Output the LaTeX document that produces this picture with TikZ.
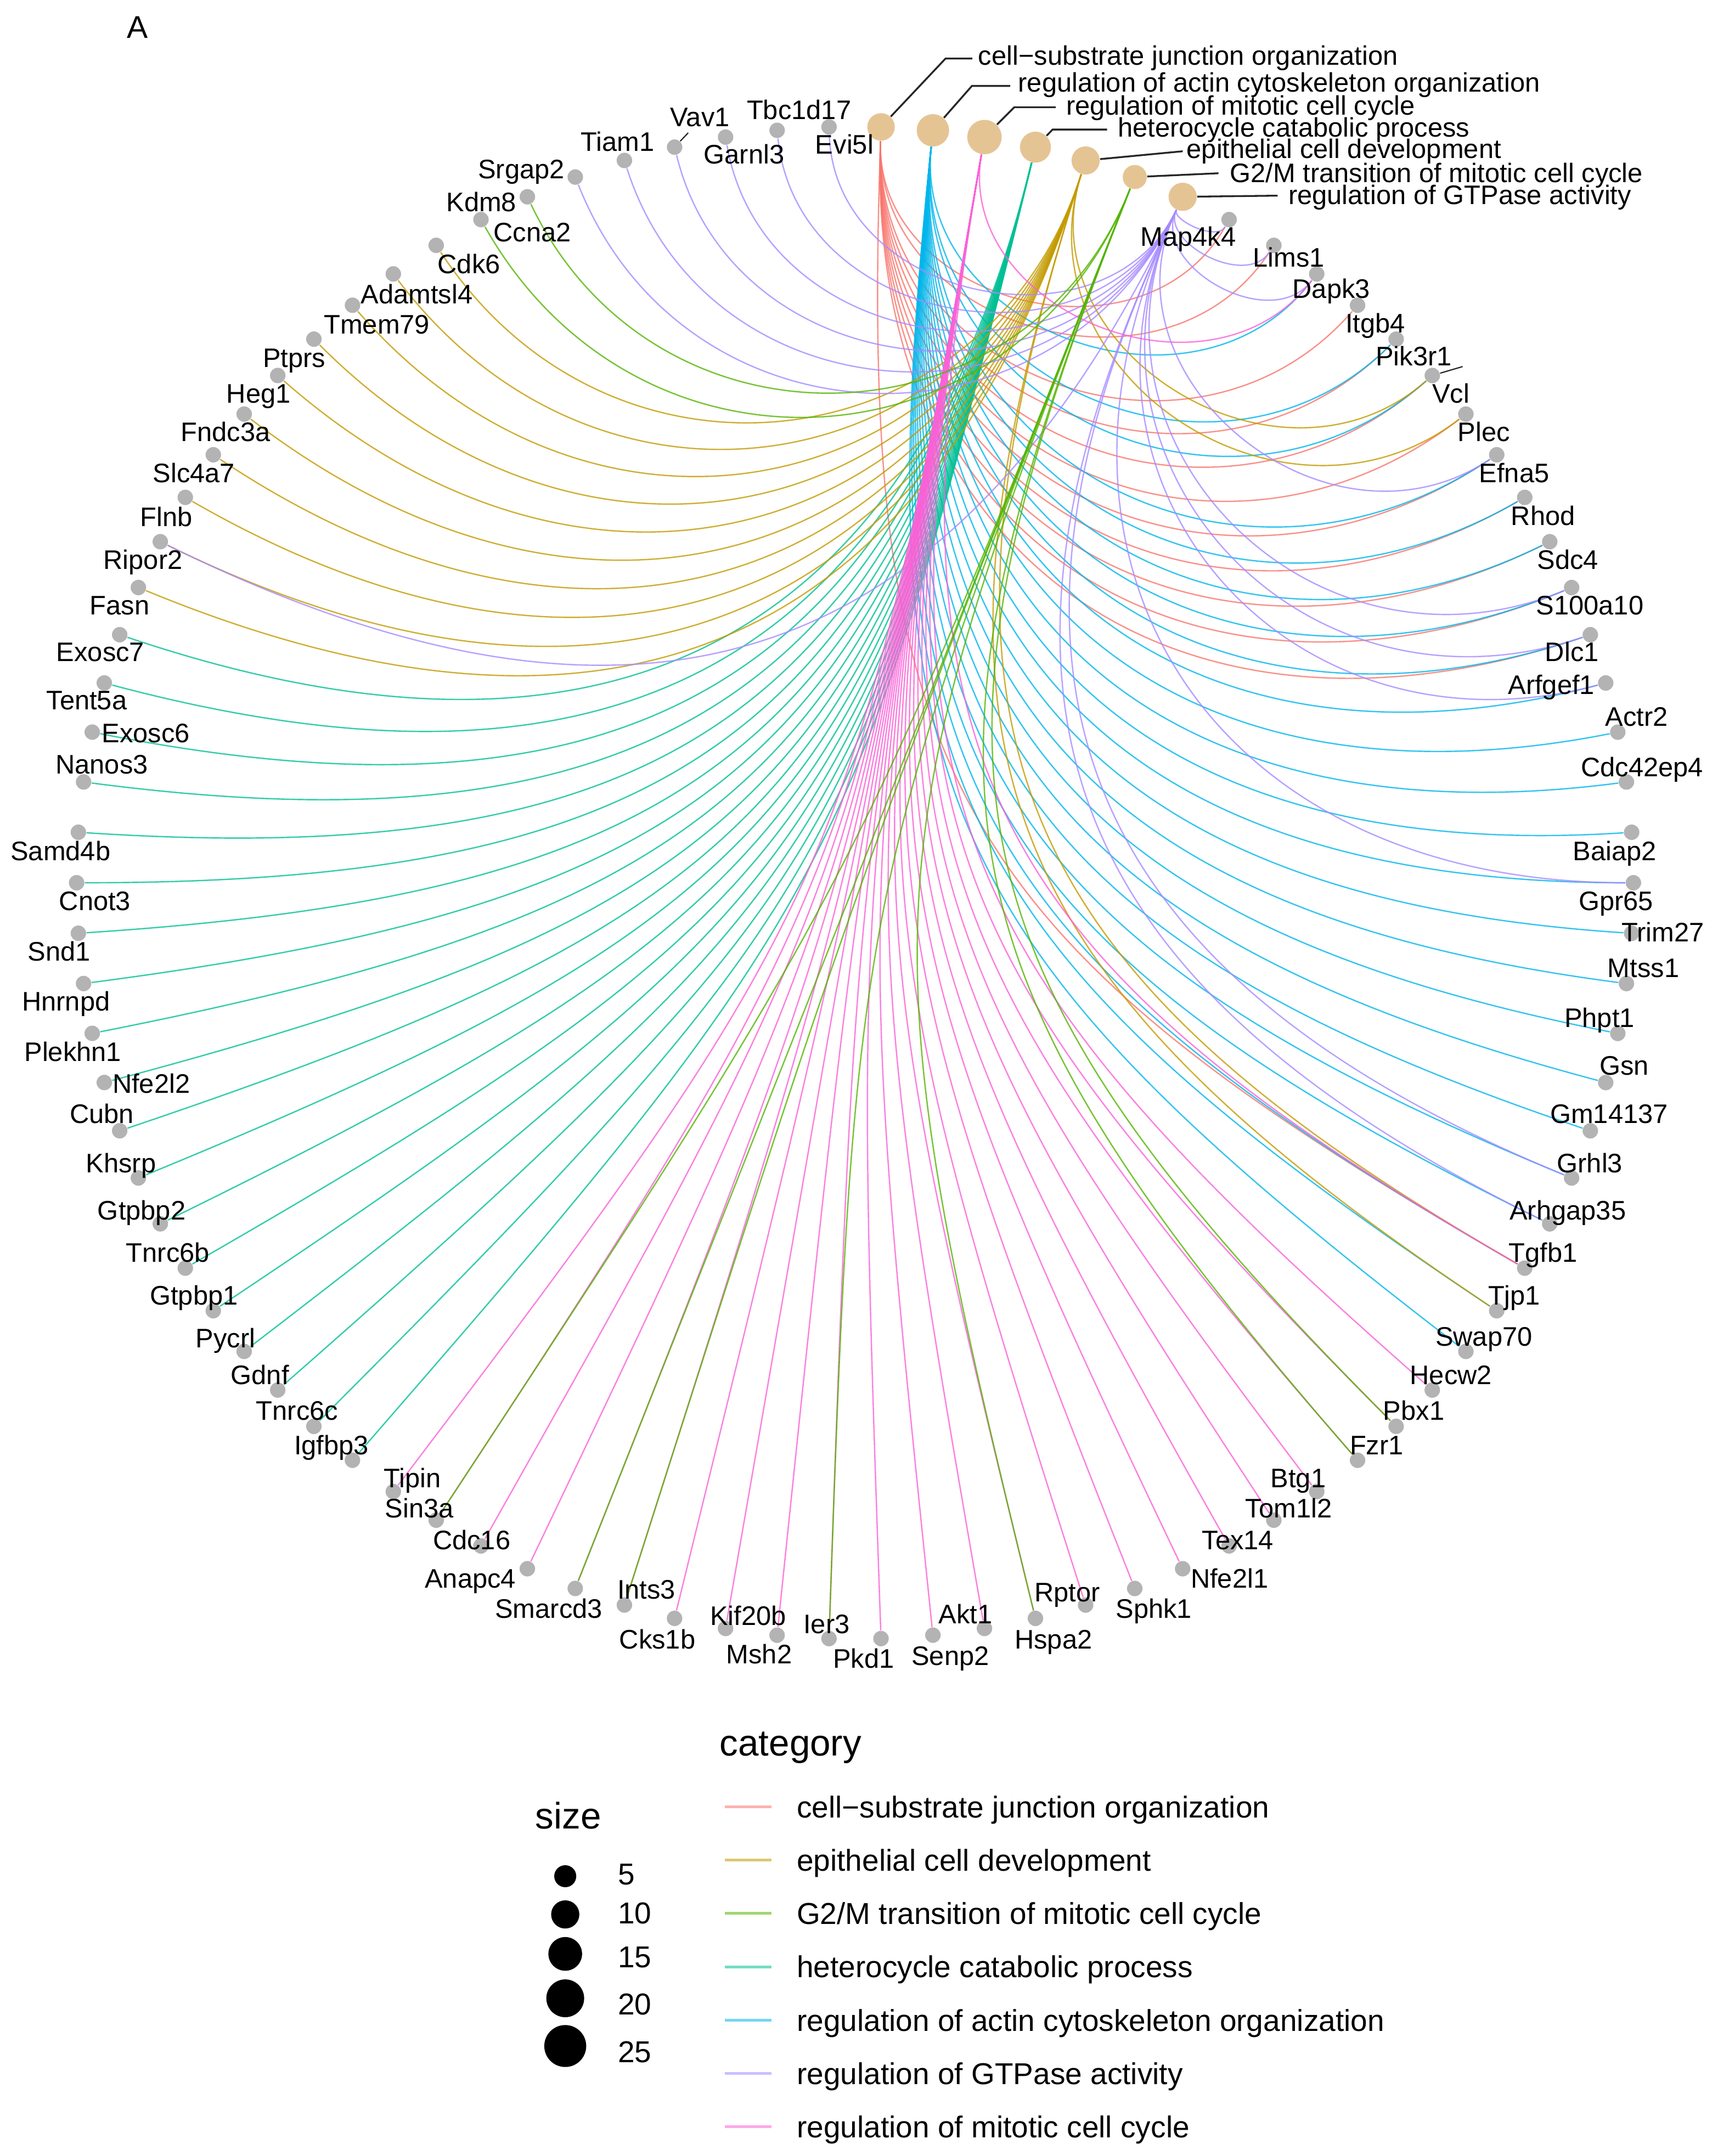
\documentclass[tikz,border=0pt]{standalone}
\usepackage{fontspec}
\setmainfont{Liberation Sans}
\usetikzlibrary{calc,backgrounds}

\definecolor{csjcol}{HTML}{F8766D}
\definecolor{epicol}{HTML}{C49A00}
\definecolor{gtmcol}{HTML}{53B400}
\definecolor{hetcol}{HTML}{00C094}
\definecolor{actcol}{HTML}{00B6EB}
\definecolor{gtpcol}{HTML}{A58AFF}
\definecolor{mitcol}{HTML}{FB61D7}
\definecolor{catfill}{HTML}{E5C494}
\definecolor{genefill}{HTML}{B3B3B3}

\tikzset{
  catdot/.style={circle, fill=catfill, inner sep=0pt},
  genedot/.style={circle, fill=genefill, inner sep=0pt, minimum size=0.225cm},
  genelabel/.style={font=\fontsize{11.1}{13}\selectfont, inner sep=0pt, text height=7.9pt, text depth=0pt},
  catlabel/.style={genelabel, anchor=west},
  arcline/.style={line width=0.55pt, draw opacity=0.8},
  leader/.style={draw=black!85, line width=0.75pt},
  legtext/.style={font=\fontsize{12.5}{15}\selectfont, inner sep=0pt, anchor=west, text height=8.9pt, text depth=0pt},
  legtitle/.style={font=\fontsize{15.3}{18}\selectfont, inner sep=0pt, anchor=base west},
  legline/.style={line width=1.1pt, draw opacity=0.55},
}

\begin{document}
\begin{tikzpicture}[x=0.02cm, y=-0.02cm]
  \useasboundingbox (0,0) rectangle (1249,1568);
  \coordinate (O) at (621.7,642);

  % Panel tag
  \node[font=\fontsize{13}{15}\selectfont, inner sep=0pt] (tag) at (100,20) {A};

  % Category nodes on the ring
  \foreach \c/\d [count=\i from 0] in {csj/0.40, act/0.47, mit/0.50, het/0.45, epi/0.41, gtm/0.35, gtp/0.41}
    \node[catdot, minimum size=\d cm] (\c) at ({621.7+566*cos(88.085-3.8298*\i)}, {642-550*sin(88.085-3.8298*\i)}) {};

  % Gene nodes on the ring
  \foreach \g [count=\i from 7] in {Map4k4, Lims1, Dapk3, Itgb4, Pik3r1, Vcl, Plec, Efna5, Rhod, Sdc4,
      S100a10, Dlc1, Arfgef1, Actr2, Cdc42ep4, Baiap2, Gpr65, Trim27, Mtss1, Phpt1,
      Gsn, Gm14137, Grhl3, Arhgap35, Tgfb1, Tjp1, Swap70, Hecw2, Pbx1, Fzr1,
      Btg1, Tom1l2, Tex14, Nfe2l1, Sphk1, Rptor, Hspa2, Akt1, Senp2, Pkd1,
      Ier3, Msh2, Kif20b, Cks1b, Ints3, Smarcd3, Anapc4, Cdc16, Sin3a, Tipin,
      Igfbp3, Tnrc6c, Gdnf, Pycrl, Gtpbp1, Tnrc6b, Gtpbp2, Khsrp, Cubn, Nfe2l2,
      Plekhn1, Hnrnpd, Snd1, Cnot3, Samd4b, Nanos3, Exosc6, Tent5a, Exosc7, Fasn,
      Ripor2, Flnb, Slc4a7, Fndc3a, Heg1, Ptprs, Tmem79, Adamtsl4, Cdk6, Ccna2,
      Kdm8, Srgap2, Tiam1, Vav1, Garnl3, Tbc1d17, Evi5l}
    \node[genedot] (\g) at ({621.7+566*cos(88.085-3.8298*\i)}, {642-550*sin(88.085-3.8298*\i)}) {};

  % Arcs bending to the centre
  \begin{scope}[on background layer]
    \fill[white] (0,0) rectangle (1249,1568);
    \foreach \c/\glist in {
        csj/{Map4k4,Lims1,Itgb4,Pik3r1,Vcl,Plec,Efna5,Rhod,Sdc4,S100a10,Dlc1,Tgfb1},
        act/{Dapk3,Pik3r1,Vcl,Efna5,Rhod,Sdc4,S100a10,Dlc1,Arfgef1,Actr2,Cdc42ep4,Baiap2,Gpr65,Trim27,Mtss1,Phpt1,Gsn,Gm14137,Grhl3,Arhgap35,Tgfb1,Tjp1,Swap70},
        het/{Exosc7,Tent5a,Exosc6,Nanos3,Samd4b,Cnot3,Snd1,Hnrnpd,Plekhn1,Nfe2l2,Cubn,Khsrp,Gtpbp2,Tnrc6b,Gtpbp1,Pycrl,Gdnf,Tnrc6c,Igfbp3},
        epi/{Fasn,Ripor2,Flnb,Slc4a7,Fndc3a,Heg1,Ptprs,Tmem79,Adamtsl4,Cdk6,Vcl,Plec,Tgfb1,Tjp1},
        gtp/{Evi5l,Tbc1d17,Garnl3,Vav1,Tiam1,Srgap2,Ripor2,Map4k4,Lims1,Dapk3,Efna5,S100a10,Dlc1,Arfgef1,Gpr65,Grhl3,Arhgap35},
        mit/{Dapk3,Tgfb1,Hecw2,Pbx1,Fzr1,Btg1,Tom1l2,Tex14,Nfe2l1,Sphk1,Rptor,Hspa2,Akt1,Senp2,Pkd1,Ier3,Msh2,Kif20b,Cks1b,Ints3,Smarcd3,Anapc4,Cdc16,Sin3a,Tipin},
        gtm/{Kdm8,Ccna2,Sin3a,Smarcd3,Ints3,Ier3,Hspa2,Fzr1,Pbx1}}
      \foreach \g in \glist
        \draw[arcline, draw=\c col] let \p1 = ($(\g)-(\c)$),
            \n1 = {min(1, scalar(veclen(\x1/322.1, \y1/313))/2)} in
          (\c) .. controls ($(\c)!\n1!(O)$) and ($(\g)!\n1!(O)$) .. (\g);
  \end{scope}

  % Gene labels
  \foreach \g/\lx/\ly in {Map4k4/864/172, Lims1/937/187, Dapk3/968/210, Itgb4/1000/235, Pik3r1/1028/259,
      Vcl/1055/286, Plec/1079/314, Efna5/1101/344, Rhod/1122/375, Sdc4/1140/407,
      S100a10/1156/440, Dlc1/1143/474, Arfgef1/1128/498, Actr2/1190/521, Cdc42ep4/1194/558,
      Baiap2/1174/619, Gpr65/1175/655, Trim27/1209/678, Mtss1/1195/704, Phpt1/1163/740,
      Gsn/1181/775, Gm14137/1170/810, Grhl3/1156/846, Arhgap35/1140/880, Tgfb1/1122/911,
      Tjp1/1101/942, Swap70/1079/972, Hecw2/1055/1000, Pbx1/1028/1026, Fzr1/1001/1051,
      Btg1/944/1075, Tom1l2/937/1097, Tex14/900/1120, Nfe2l1/894/1148, Sphk1/839/1170,
      Rptor/776/1158, Hspa2/766/1192, Akt1/702/1174, Senp2/691/1204, Pkd1/628/1206,
      Ier3/601/1181, Msh2/552/1203, Kif20b/544/1175, Cks1b/478/1192, Ints3/470/1156,
      Smarcd3/399/1170, Anapc4/342/1148, Cdc16/343/1120, Sin3a/305/1097, Tipin/300/1075,
      Igfbp3/241/1051, Tnrc6c/216/1026, Gdnf/189/1000, Pycrl/164/973, Gtpbp1/141/942,
      Tnrc6b/122/911, Gtpbp2/103/880, Khsrp/88/846, Cubn/74/810, Nfe2l2/110/788,
      Plekhn1/53/765, Hnrnpd/48/728, Snd1/43/692, Cnot3/69/655, Samd4b/44/619,
      Nanos3/74/556, Exosc6/106/533, Tent5a/63/509, Exosc7/73/474, Fasn/87/440,
      Ripor2/104/407, Flnb/121/376, Slc4a7/141/344, Fndc3a/164/314, Heg1/188/286,
      Ptprs/214/260, Tmem79/274/236, Adamtsl4/303/214, Cdk6/341/192, Ccna2/387/169,
      Kdm8/350/147, Srgap2/379/123, Tiam1/449/103, Vav1/509/85, Garnl3/541/112,
      Tbc1d17/581/80, Evi5l/614/105}
    \node[genelabel] (\g-lab) at (\lx,\ly) {\g};

  % Repel segments
  \coordinate (vav-tip) at (500.4,96.6);
  \coordinate (vcl-tip) at (1063.5,266.6);
  \draw[leader, line width=0.5pt] (Vav1) -- (vav-tip);
  \draw[leader, line width=0.5pt] (Vcl) -- (vcl-tip);

  % Category labels with leaders
  \node[catlabel] (csj-lab) at (711,40.5) {cell−substrate junction organization};
  \node[catlabel] (act-lab) at (740,60) {regulation of actin cytoskeleton organization};
  \node[catlabel] (mit-lab) at (775,76.5) {regulation of mitotic cell cycle};
  \node[catlabel] (het-lab) at (812.5,92.5) {heterocycle catabolic process};
  \node[catlabel] (epi-lab) at (862.5,108) {epithelial cell development};
  \node[catlabel] (gtm-lab) at (894,125.7) {G2/M transition of mitotic cell cycle};
  \node[catlabel] (gtp-lab) at (936.5,141.7) {regulation of GTPase activity};
  \draw[leader] (csj) -- (687.5,42.6) -- (707,42.6);
  \draw[leader] (act) -- (706.7,62.5) -- (734.6,62.5);
  \draw[leader] (mit) -- (737.5,78) -- (767.7,78);
  \draw[leader] (het) -- (765.4,94.2) -- (805,94.2);
  \draw[leader] (epi) -- (860,110);
  \draw[leader] (gtm) -- (886,126);
  \draw[leader] (gtp) -- (929,142.3);

  % Legend: category
  \node[legtitle] (cat-title) at (523,1277) {category};
  \foreach \c/\t [count=\k from 0] in {csj/{cell−substrate junction organization},
      epi/{epithelial cell development}, gtm/{G2/M transition of mitotic cell cycle},
      het/{heterocycle catabolic process}, act/{regulation of actin cytoskeleton organization},
      gtp/{regulation of GTPase activity}, mit/{regulation of mitotic cell cycle}} {
    \draw[legline, draw=\c col] (527,1314+38.8*\k) -- (561,1314+38.8*\k);
    \node[legtext] (\c-key) at (579,1314+38.8*\k) {\t};
  }

  % Legend: size
  \node[legtitle] (size-title) at (389,1330) {size};
  \foreach \s/\sy/\d/\ly in {5/1364.5/0.32/1363, 10/1392.3/0.41/1391, 15/1421/0.49/1423,
      20/1453.3/0.55/1457.5, 25/1488/0.61/1492} {
    \node[circle, fill=black, inner sep=0pt, minimum size=\d cm] (dot\s) at (411,\sy) {};
    \node[legtext] (num\s) at (449,\ly) {\s};
  }
\end{tikzpicture}
\end{document}
